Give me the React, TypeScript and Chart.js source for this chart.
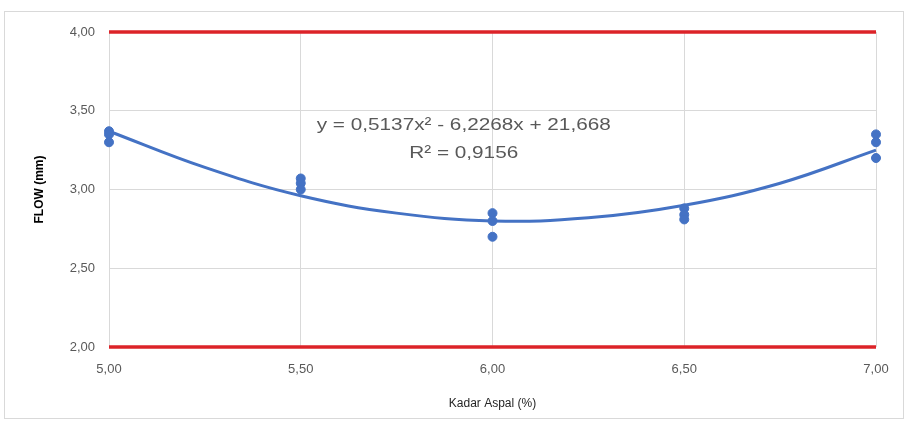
import React, { useEffect, useRef } from "react";
import { Chart, registerables } from "chart.js";

Chart.register(...registerables);

const kadarAspal = [5.0, 5.5, 6.0, 6.5, 7.0];
const flowA = [3.37, 3.07, 2.85, 2.88, 3.35];
const flowB = [3.35, 3.04, 2.8, 2.84, 3.3];
const flowC = [3.3, 3.0, 2.7, 2.81, 3.2];

const trendX = [5.0, 5.25, 5.5, 5.75, 6.0, 6.25, 6.5, 6.75, 7.0];
const trendY = [3.37, 3.14, 2.96, 2.85, 2.8, 2.82, 2.9, 3.04, 3.25];

const limitX = [5.0, 7.0];
const upperLimit = [4.0, 4.0];
const lowerLimit = [2.0, 2.0];

const equationText = "y = 0,5137x² - 6,2268x + 21,668";
const r2Text = "R² = 0,9156";

const yTicks = [2.0, 2.5, 3.0, 3.5, 4.0];
const xTicks = [5.0, 5.5, 6.0, 6.5, 7.0];

const fmt = (v: number) => v.toFixed(2).replace(".", ",");

export default function App() {
  const ref = useRef<HTMLCanvasElement | null>(null);

  useEffect(() => {
    if (!ref.current) return;
    const points: { x: number; y: number }[] = [];
    kadarAspal.forEach((x, i) => {
      points.push({ x, y: flowA[i] });
      points.push({ x, y: flowB[i] });
      points.push({ x, y: flowC[i] });
    });
    const blue = "#4472c4";
    const red = "#dc2328";

    const eqPlugin = {
      id: "eq",
      afterDatasetsDraw(chart: any) {
        const ctx = chart.ctx;
        const xs = chart.scales.x;
        const ys = chart.scales.y;
        const cx = xs.getPixelForValue(5.925);
        const sx = 1.22;
        ctx.save();
        ctx.fillStyle = "#595959";
        ctx.font = "17px 'Liberation Sans', Arial, sans-serif";
        ctx.textAlign = "center";
        ctx.textBaseline = "middle";
        ctx.translate(cx, 0);
        ctx.scale(sx, 1);
        ctx.fillText(equationText, 0, ys.getPixelForValue(3.405));
        ctx.fillText(r2Text, 0, ys.getPixelForValue(3.23));
        ctx.restore();
      },
    };

    const chart = new Chart(ref.current, {
      type: "scatter",
      data: {
        datasets: [
          {
            label: "upper",
            type: "line",
            data: limitX.map((x, i) => ({ x, y: upperLimit[i] })),
            borderColor: red,
            borderWidth: 3.5,
            pointRadius: 0,
            clip: false,
            order: 3,
          },
          {
            label: "lower",
            type: "line",
            data: limitX.map((x, i) => ({ x, y: lowerLimit[i] })),
            borderColor: red,
            borderWidth: 3.5,
            pointRadius: 0,
            clip: false,
            order: 3,
          },
          {
            label: "trend",
            type: "line",
            data: trendX.map((x, i) => ({ x, y: trendY[i] })),
            borderColor: blue,
            borderWidth: 3,
            pointRadius: 0,
            tension: 0.4,
            clip: false,
            order: 2,
          },
          {
            label: "FLOW",
            data: points,
            backgroundColor: blue,
            borderColor: blue,
            pointRadius: 4.5,
            clip: false,
            order: 1,
          },
        ],
      },
      options: {
        animation: false,
        responsive: false,
        layout: { padding: { left: 28, right: 31, top: 32, bottom: 6 } },
        plugins: { legend: { display: false }, tooltip: { enabled: false } },
        scales: {
          x: {
            type: "linear",
            min: 5,
            max: 7,
            afterBuildTicks: (s: any) => {
              s.ticks = xTicks.map((v) => ({ value: v }));
            },
            afterFit: (s: any) => {
              s.height = 421 - 347 - 6;
            },
            grid: { color: "#d9d9d9", drawTicks: false },
            border: { display: false },
            ticks: {
              padding: 15,
              color: "#595959",
              font: { size: 13, family: "'Liberation Sans', Arial, sans-serif" },
              callback: (v: any) => fmt(Number(v)),
              maxRotation: 0,
            },
            title: {
              display: true,
              text: "Kadar Aspal (%)",
              color: "#262626",
              font: { size: 12, family: "'Liberation Sans', Arial, sans-serif" },
              padding: { top: 4, bottom: 4 },
            },
          },
          y: {
            type: "linear",
            min: 2,
            max: 4,
            afterBuildTicks: (s: any) => {
              s.ticks = yTicks.map((v) => ({ value: v }));
            },
            afterFit: (s: any) => {
              s.width = 109 - 28;
            },
            grid: { color: "#d9d9d9", drawTicks: false },
            border: { display: false },
            ticks: {
              padding: 14,
              color: "#595959",
              font: { size: 13, family: "'Liberation Sans', Arial, sans-serif" },
              callback: (v: any) => fmt(Number(v)),
            },
            title: {
              display: true,
              text: "FLOW (mm)",
              color: "#000000",
              font: { size: 12, weight: "bold", family: "'Liberation Sans', Arial, sans-serif" },
              padding: { top: 4, bottom: 4 },
            },
          },
        },
      },
      plugins: [eqPlugin],
    } as any);
    return () => chart.destroy();
  }, []);

  return (
    <div style={{ position: "absolute", left: 0, top: 0, width: 907, height: 421, background: "#fff" }}>
      <div
        style={{
          position: "absolute",
          left: 4,
          top: 11,
          width: 900,
          height: 408,
          border: "1px solid #d9d9d9",
          boxSizing: "border-box",
        }}
      />
      <canvas ref={ref} width={907} height={421} style={{ position: "absolute", left: 0, top: 0 }} />
    </div>
  );
}
